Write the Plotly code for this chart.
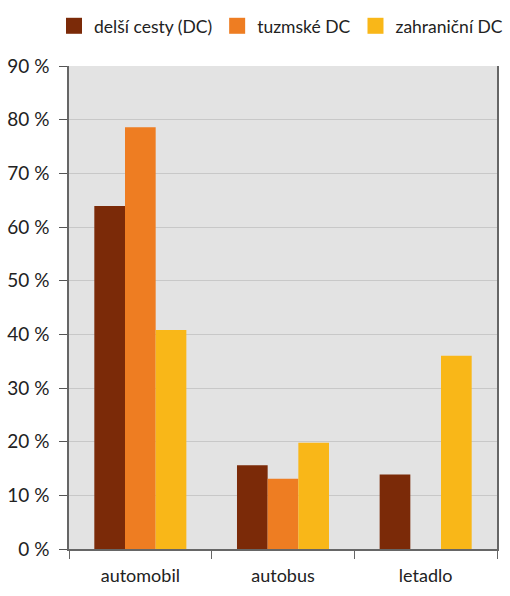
import plotly.graph_objects as go

categories = ["automobil", "autobus", "letadlo"]
series_names = ["delší cesty (DC)", "tuzmské DC", "zahraniční DC"]
delsi = [63.9, 15.6, 13.9]
tuzemske = [78.6, 13.1, None]
zahranicni = [40.8, 19.8, 36.0]
colors = ["#7B2A08", "#EE7D22", "#F9B718"]
y_ticks = [0, 10, 20, 30, 40, 50, 60, 70, 80, 90]
y_labels = [f"{v} %" for v in y_ticks]

FONT = "Lato"
fig = go.Figure()
for name, vals, col in zip(series_names, [delsi, tuzemske, zahranicni], colors):
    fig.add_trace(go.Bar(x=categories, y=vals, name=name, marker_color=col,
                         marker_line_width=0, showlegend=False))
for name, col in zip(series_names, colors):
    fig.add_trace(go.Scatter(x=[None], y=[None], mode="markers", name=name,
                             marker=dict(symbol="square", size=16, color=col)))

fig.update_layout(
    width=510, height=596,
    margin=dict(l=69, r=13, t=66, b=47, autoexpand=False),
    paper_bgcolor="white", plot_bgcolor="#E3E3E3",
    barmode="group", bargap=0.355, bargroupgap=0,
    font=dict(family=FONT, size=18, color="#222222"),
    legend=dict(orientation="h", x=-0.035, xanchor="left", y=1.083, yanchor="middle",
                font=dict(size=17.5), itemwidth=30, tracegroupgap=0),
    xaxis=dict(tickson="boundaries", ticks="outside", ticklen=8, tickcolor="#666666",
               showline=True, linecolor="#666666", linewidth=1.5, showgrid=False,
               tickfont=dict(size=18), ticklabelstandoff=10),
    yaxis=dict(range=[0, 90], tickvals=y_ticks, ticktext=y_labels, ticks="outside",
               ticklen=8, tickcolor="#555555", showline=True, linecolor="#666666",
               linewidth=1.5, mirror=True, gridcolor="#C8C8C8", gridwidth=1,
               zeroline=False, tickfont=dict(size=19), ticklabelstandoff=6),
)
fig.write_html("out.html")
